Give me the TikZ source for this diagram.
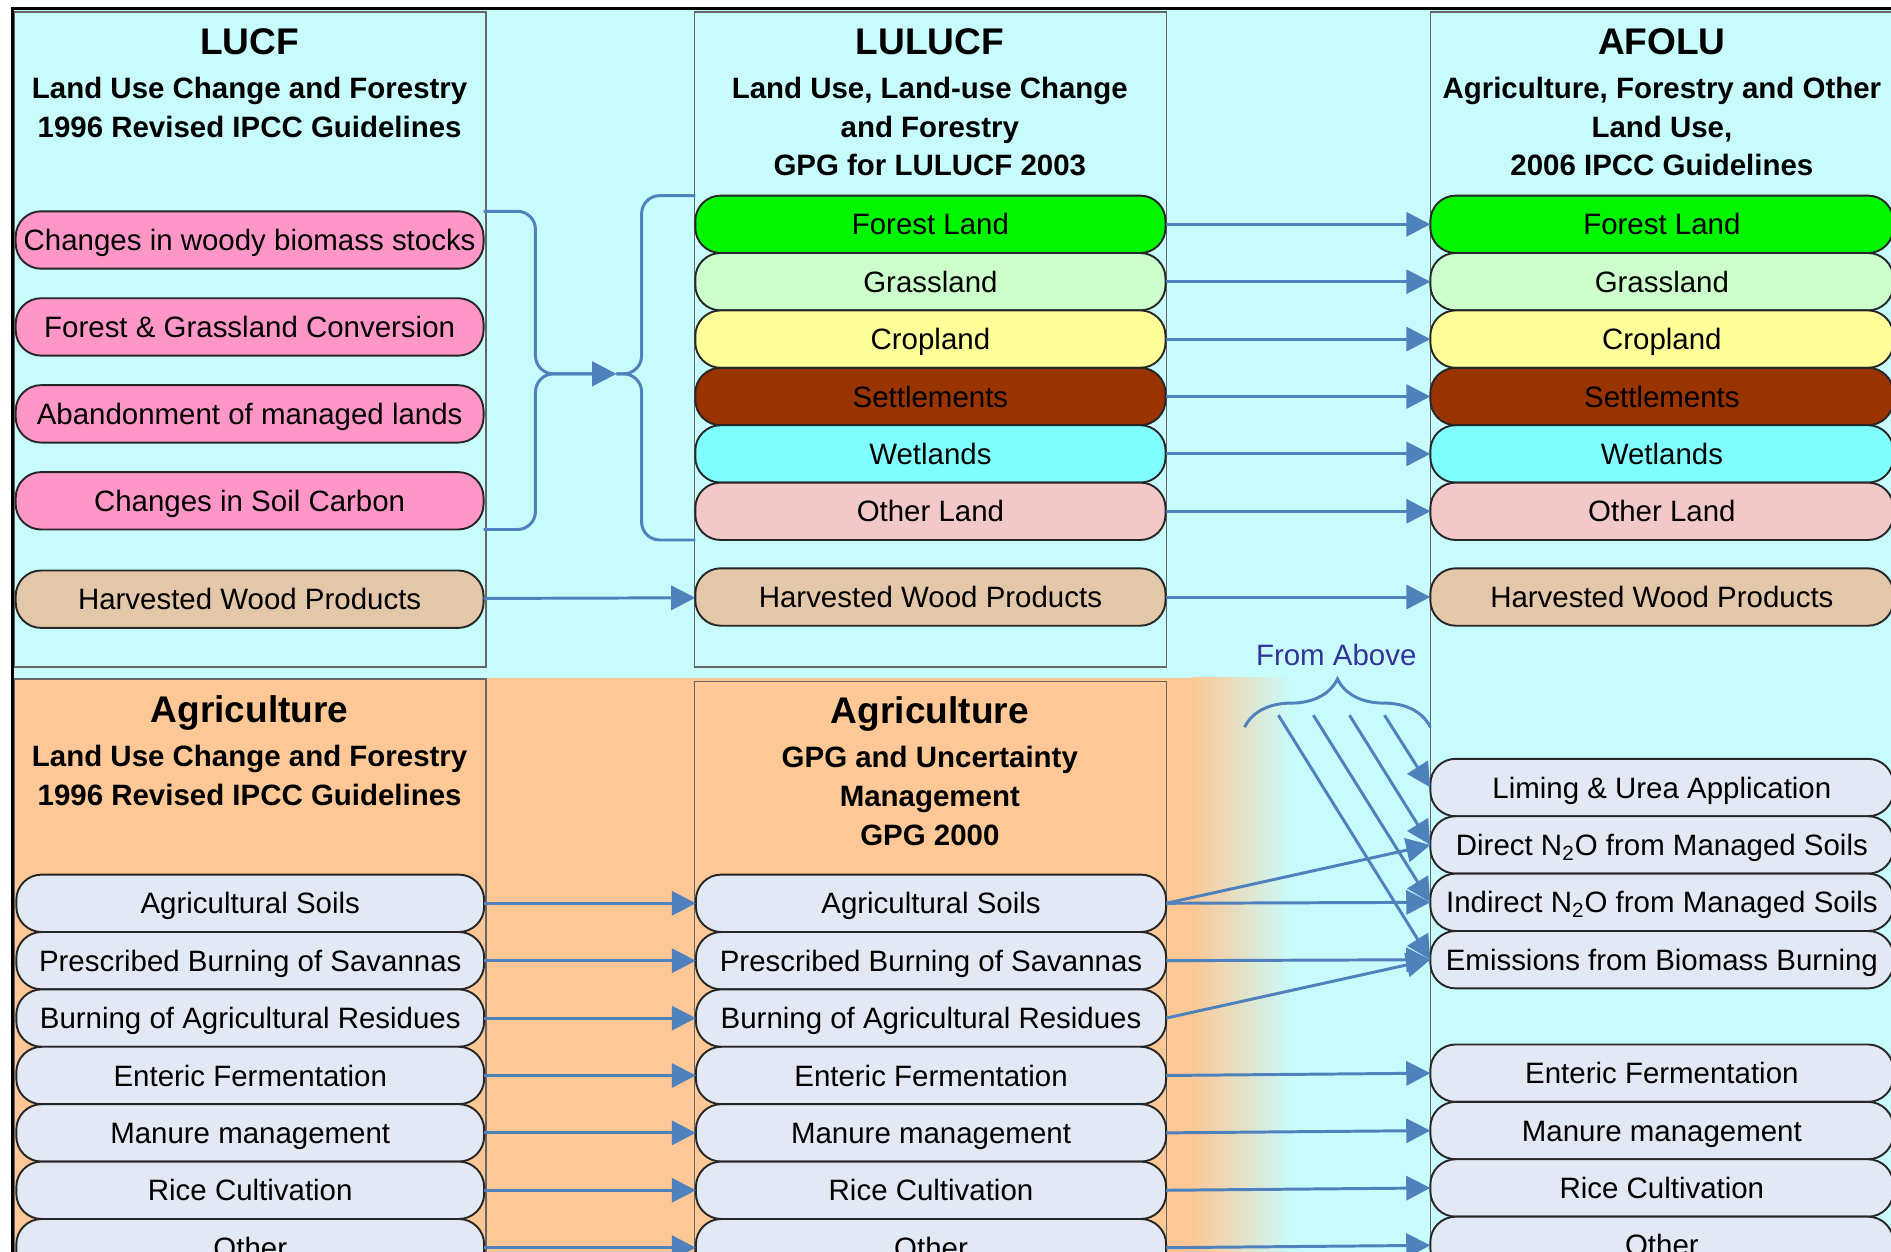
\documentclass[tikz,border=0pt]{standalone}
\usepackage{fontspec}
\setmainfont{Liberation Sans}
\usetikzlibrary{positioning, arrows.meta, decorations.pathreplacing}

\definecolor{bgcyan}{RGB}{200,252,252}
\definecolor{bgorange}{RGB}{253,200,150}
\definecolor{pinkitem}{RGB}{255,150,200}
\definecolor{tanitem}{RGB}{226,200,168}
\definecolor{forestgreen}{RGB}{0,245,0}
\definecolor{grassgreen}{RGB}{204,255,204}
\definecolor{cropyellow}{RGB}{255,255,153}
\definecolor{settlebrown}{RGB}{153,51,0}
\definecolor{wetcyan}{RGB}{128,255,255}
\definecolor{otherpink}{RGB}{242,200,200}
\definecolor{agrigrey}{RGB}{226,232,244}
\definecolor{flowblue}{RGB}{79,129,189}
\definecolor{aboveblue}{RGB}{51,51,153}

\begin{document}
\begin{tikzpicture}
        [
            x=0.02cm, y=-0.02cm,
            colbox/.style = {draw=black!60, line width=0.6pt},
            item/.style = {draw=black!85, line width=0.9pt, rounded corners=0.42cm, minimum height=0.952cm,
                           inner sep=0pt, outer sep=0pt, text height=11pt, text depth=1pt,
                           font=\fontsize{13.9}{16}\selectfont},
            lucf/.style = {item, minimum width=7.76cm},
            mid/.style = {item, minimum width=7.8cm},
            afolu/.style = {item, minimum width=7.68cm},
            heading/.style = {align=center, font=\fontsize{13.9}{18.2}\selectfont\bfseries},
            bigtitle/.style = {font=\fontsize{17.5}{20}\selectfont\bfseries},
            flow/.style = {->, draw=flowblue, line width=1.4pt},
            wire/.style = {draw=flowblue, line width=1.4pt},
            >={Triangle[length=0.4cm, width=0.4cm]}, node distance=0.49cm
        ]%
        \useasboundingbox (0,0) rectangle (1568,1038);
        \clip (0,0) rectangle (1568,1038);
        % backgrounds
        \fill[bgcyan] (10,7) rectangle (1568,1038);
        \fill[bgorange] (10,562) rectangle (990,1038);
        \shade[left color=bgorange, right color=bgcyan] (989,562) rectangle (1072,1038);
        \draw[black, line width=1.4pt] (10,1040) -- (10,7) -- (1570,7);
        % column frames
        \draw[colbox] (12,10) rectangle (403,553);
        \draw[colbox] (576,10) rectangle (967,553);
        \draw[colbox] (1186,10) rectangle (1600,1060);
        \draw[colbox] (12,563) rectangle (403,1060);
        \draw[colbox] (576,565) rectangle (967,1060);
        % headings
        \node[bigtitle] (lucf-t) at (207,35) {LUCF};
        \node[heading] (lucf-h) at (207,89) {Land Use Change and Forestry\\1996 Revised IPCC Guidelines};
        \node[bigtitle] (lulucf-t) at (771,35) {LULUCF};
        \node[heading] (lulucf-h) at (771,105) {Land Use, Land-use Change\\and Forestry\\GPG for LULUCF 2003};
        \node[bigtitle] (afolu-t) at (1378,35) {AFOLU};
        \node[heading] (afolu-h) at (1378,105) {Agriculture, Forestry and Other\\Land Use,\\2006 IPCC Guidelines};
        \node[bigtitle] (agri-t) at (207,591) {Agriculture};
        \node[heading] (agri-h) at (207,643) {Land Use Change and Forestry\\1996 Revised IPCC Guidelines};
        \node[bigtitle] (gpg-t) at (771,592) {Agriculture};
        \node[heading] (gpg-h) at (771,660) {GPG and Uncertainty\\Management\\GPG 2000};
        % LUCF
        \node[lucf, fill=pinkitem] (lwood) at (207,199) {Changes in woody biomass stocks};
        \node[lucf, fill=pinkitem, below=of lwood] (lconv) {Forest \& Grassland Conversion};
        \node[lucf, fill=pinkitem, below=of lconv] (laband) {Abandonment of managed lands};
        \node[lucf, fill=pinkitem, below=of laband] (lsoil) {Changes in Soil Carbon};
        \node[lucf, fill=tanitem, below=0.68cm of lsoil] (lhwp) {Harvested Wood Products};
        % LULUCF
        \node[mid, fill=forestgreen] (mforest) at (771.5,186) {Forest Land};
        \node[mid, fill=grassgreen, below=0pt of mforest] (mgrass) {Grassland};
        \node[mid, fill=cropyellow, below=0pt of mgrass] (mcrop) {Cropland};
        \node[mid, fill=settlebrown, below=0pt of mcrop] (msettle) {Settlements};
        \node[mid, fill=wetcyan, below=0pt of msettle] (mwet) {Wetlands};
        \node[mid, fill=otherpink, below=0pt of mwet] (mother) {Other Land};
        \node[mid, fill=tanitem, below=0.47cm of mother] (mhwp) {Harvested Wood Products};
        % AFOLU
        \node[afolu, fill=forestgreen] (aforest) at (1378,186) {Forest Land};
        \node[afolu, fill=grassgreen, below=0pt of aforest] (agrass) {Grassland};
        \node[afolu, fill=cropyellow, below=0pt of agrass] (acrop) {Cropland};
        \node[afolu, fill=settlebrown, below=0pt of acrop] (asettle) {Settlements};
        \node[afolu, fill=wetcyan, below=0pt of asettle] (awet) {Wetlands};
        \node[afolu, fill=otherpink, below=0pt of awet] (aother) {Other Land};
        \node[afolu, fill=tanitem, below=0.47cm of aother] (ahwp) {Harvested Wood Products};
        \node[afolu, fill=agrigrey] (aliming) at (1378,653) {Liming \& Urea Application};
        \node[afolu, fill=agrigrey, below=0pt of aliming] (adirect) {Direct N\textsubscript{2}O from Managed Soils};
        \node[afolu, fill=agrigrey, below=0pt of adirect] (aindirect) {Indirect N\textsubscript{2}O from Managed Soils};
        \node[afolu, fill=agrigrey, below=0pt of aindirect] (aemis) {Emissions from Biomass Burning};
        \node[afolu, fill=agrigrey, below=0.93cm of aemis] (aenteric) {Enteric Fermentation};
        \node[afolu, fill=agrigrey, below=0pt of aenteric] (amanure) {Manure management};
        \node[afolu, fill=agrigrey, below=0pt of amanure] (arice) {Rice Cultivation};
        \node[afolu, fill=agrigrey, below=0pt of arice] (aagother) {Other};
        % Agriculture 1996
        \node[lucf, fill=agrigrey] (gsoil) at (207.5,749) {Agricultural Soils};
        \node[lucf, fill=agrigrey, below=0pt of gsoil] (gsav) {Prescribed Burning of Savannas};
        \node[lucf, fill=agrigrey, below=0pt of gsav] (gresid) {Burning of Agricultural Residues};
        \node[lucf, fill=agrigrey, below=0pt of gresid] (genteric) {Enteric Fermentation};
        \node[lucf, fill=agrigrey, below=0pt of genteric] (gmanure) {Manure management};
        \node[lucf, fill=agrigrey, below=0pt of gmanure] (grice) {Rice Cultivation};
        \node[lucf, fill=agrigrey, below=0pt of grice] (gother) {Other};
        % Agriculture GPG 2000
        \node[mid, fill=agrigrey] (psoil) at (772,749) {Agricultural Soils};
        \node[mid, fill=agrigrey, below=0pt of psoil] (psav) {Prescribed Burning of Savannas};
        \node[mid, fill=agrigrey, below=0pt of psav] (presid) {Burning of Agricultural Residues};
        \node[mid, fill=agrigrey, below=0pt of presid] (penteric) {Enteric Fermentation};
        \node[mid, fill=agrigrey, below=0pt of penteric] (pmanure) {Manure management};
        \node[mid, fill=agrigrey, below=0pt of pmanure] (price) {Rice Cultivation};
        \node[mid, fill=agrigrey, below=0pt of price] (pother) {Other};
        % brackets LUCF -> LULUCF
        \coordinate (merge) at (444,310);
        \coordinate (tip) at (511,310);
        \coordinate (split) at (532,310);
        \draw[flow, rounded corners=0.3cm] (lwood.north east) -| (merge) -- (tip);
        \draw[flow, rounded corners=0.3cm] (lsoil.south east) -| (merge) -- (tip);
        \draw[wire, rounded corners=0.3cm] (tip) -- (split) |- (mforest.north west);
        \draw[wire, rounded corners=0.3cm] (tip) -- (split) |- (mother.south west);
        \draw[flow] (lhwp) -- (mhwp);
        % LULUCF -> AFOLU
        \draw[flow] (mforest) -- (aforest);
        \draw[flow] (mgrass) -- (agrass);
        \draw[flow] (mcrop) -- (acrop);
        \draw[flow] (msettle) -- (asettle);
        \draw[flow] (mwet) -- (awet);
        \draw[flow] (mother) -- (aother);
        \draw[flow] (mhwp) -- (ahwp);
        % Agriculture rows
        \draw[flow] (gsoil) -- (psoil);
        \draw[flow] (gsav) -- (psav);
        \draw[flow] (gresid) -- (presid);
        \draw[flow] (genteric) -- (penteric);
        \draw[flow] (gmanure) -- (pmanure);
        \draw[flow] (grice) -- (price);
        \draw[flow] (gother) -- (pother);
        \draw[flow] (psoil.east) -- (adirect.west);
        \draw[flow] (psoil.east) -- (aindirect.west);
        \draw[flow] (psav.east) -- (aemis.west);
        \draw[flow] (presid.east) -- (aemis.west);
        \draw[flow] (penteric.east) -- (aenteric.west);
        \draw[flow] (pmanure.east) -- (amanure.west);
        \draw[flow] (price.east) -- (arice.west);
        \draw[flow] (pother.east) -- (aagother.west);
        % from above
        \node[text=aboveblue, font=\fontsize{13.9}{16}\selectfont] (above) at (1108,543) {From Above};
        \coordinate (bleft) at (1032,603);
        \coordinate (bright) at (1186,603);
        \draw[wire, decorate, decoration={brace, amplitude=0.8cm}] (bleft) -- (bright);
        \coordinate (src1) at (1060,593);
        \coordinate (src2) at (1089,593);
        \coordinate (src3) at (1119,593);
        \coordinate (src4) at (1148,593);
        \draw[flow] (src1) -- (aemis.west);
        \draw[flow] (src2) -- (aindirect.west);
        \draw[flow] (src3) -- (adirect.west);
        \draw[flow] (src4) -- (aliming.west);
\end{tikzpicture}
\end{document}
